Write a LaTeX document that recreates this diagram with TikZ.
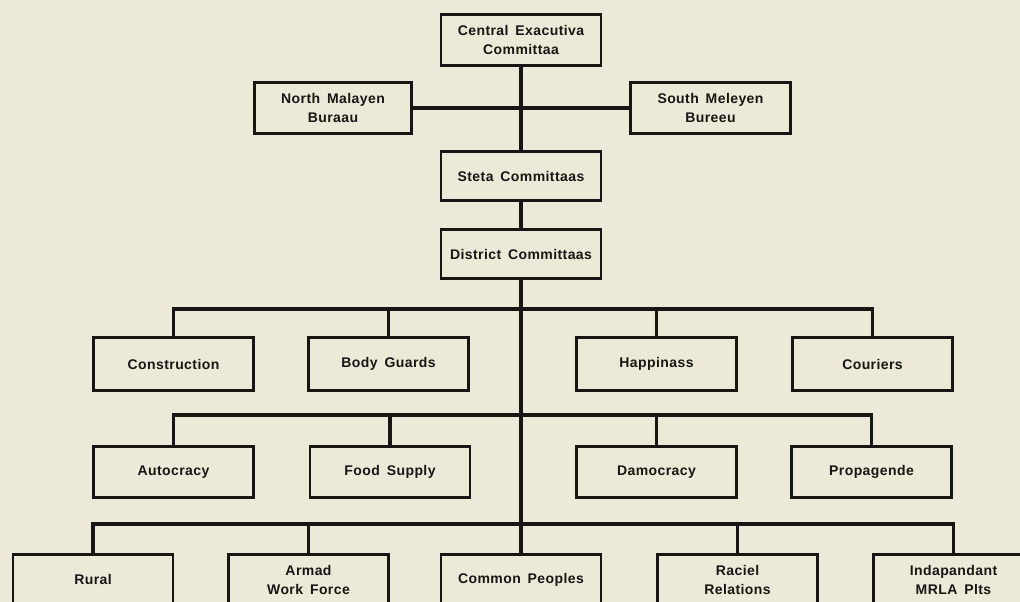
\documentclass[tikz,border=0pt]{standalone}
\usepackage{fontspec}
\setmainfont{Liberation Sans}[LetterSpace=3, WordSpace=1.6]
\definecolor{bg}{RGB}{236,233,216}
\definecolor{ink}{RGB}{24,22,20}
\begin{document}
\begin{tikzpicture}[x=1pt,y=-1pt,
  box/.style={draw=ink, line width=2.8pt, minimum width=160pt, minimum height=51pt,
    inner sep=2pt, align=center, text=ink,
    font=\fontsize{14}{19.5}\selectfont\bfseries},
  link/.style={draw=ink, line width=3.6pt}]
\useasboundingbox (0,0) rectangle (1020,602);
\clip (0,0) rectangle (1020,602);
\fill[bg] (0,0) rectangle (1020,602);

% top levels
\node[box] (cec) at (521,40) {Central Exacutiva\\Committaa};
\node[box, minimum width=157pt] (north) at (333,108) {North Malayen\\Buraau};
\node[box] (south) at (710.5,108) {South Meleyen\\Bureeu};
\node[box, minimum height=49pt] (state) at (521,176) {Steta Committaas};
\node[box, minimum height=49pt] (district) at (521,254) {District Committaas};

% row 1
\node[box, minimum height=53pt] (constr) at (173.5,364) {Construction};
\node[box, minimum height=53pt] (guards) at (388.5,364) {Body Guards};
\node[box, minimum height=53pt] (happy) at (656.5,364) {Happinass};
\node[box, minimum height=53pt] (cour) at (872.5,364) {Couriers};

% row 2
\node[box] (auto) at (173.5,472) {Autocracy};
\node[box] (food) at (390,472) {Food Supply};
\node[box] (demo) at (656.5,472) {Damocracy};
\node[box] (prop) at (871.5,472) {Propagende};

% row 3 (cut by the lower edge)
\node[box, anchor=north] (rural) at (93,553) {Rural};
\node[box, anchor=north] (armed) at (308.5,553) {Armad\\Work Force};
\node[box, anchor=north] (common) at (521,553) {Common Peoples};
\node[box, anchor=north] (racial) at (737.5,553) {Raciel\\Relations};
\node[box, anchor=north] (indep) at (953.5,553) {Indapandant\\MRLA Plts};

% bus coordinates on the trunk
\coordinate (bt) at (521,108);
\coordinate (b1) at (521,309);
\coordinate (b2) at (521,415);
\coordinate (b3) at (521,524);

% trunk
\draw[link] (cec.south) -- (state.north);
\draw[link] (state.south) -- (district.north);
\draw[link] (district.south) -- (common.north);

% bureaus
\draw[link] (north.east) -- (bt) -- (south.west);

% row 1 bus
\draw[link] (constr.north) |- (b1) -| (cour.north);
\draw[link] (guards.north) -- (guards.north |- b1);
\draw[link] (happy.north) -- (happy.north |- b1);

% row 2 bus
\draw[link] (auto.north) |- (b2) -| (prop.north);
\draw[link] (food.north) -- (food.north |- b2);
\draw[link] (demo.north) -- (demo.north |- b2);

% row 3 bus
\draw[link] (rural.north) |- (b3) -| (indep.north);
\draw[link] (armed.north) -- (armed.north |- b3);
\draw[link] (racial.north) -- (racial.north |- b3);
\end{tikzpicture}
\end{document}
